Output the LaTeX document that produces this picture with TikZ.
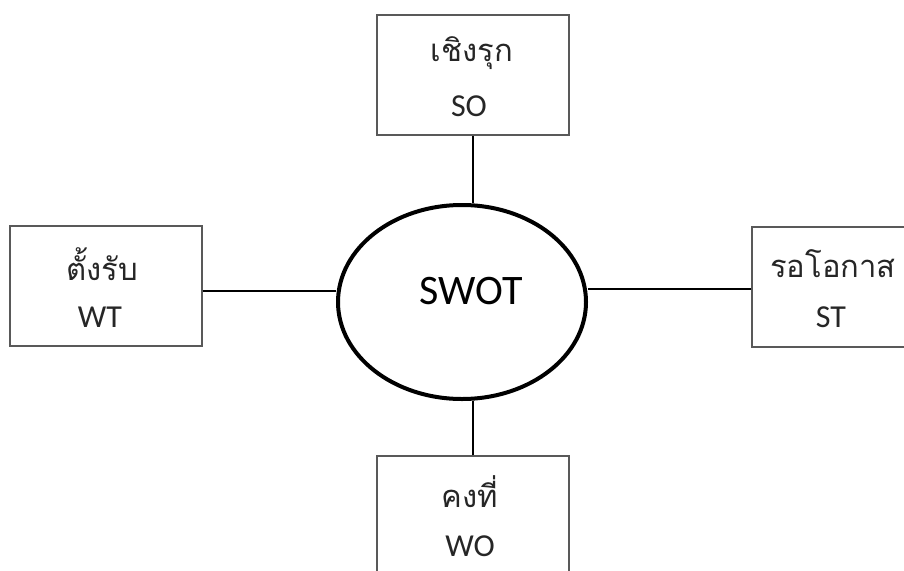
\documentclass[tikz,border=0pt]{standalone}
\usepackage{fontspec}
\setmainfont{Carlito}
\newfontfamily\thaifont[Script=Thai]{Loma}
\usetikzlibrary{shapes.geometric}

\tikzset{
  stratbox/.style={draw=black!65, line width=1.1pt, rectangle, inner sep=0pt,
    minimum width=192pt, minimum height=120pt},
  thaitext/.style={font=\thaifont\fontsize{31}{36}\selectfont, text=black!85, inner sep=0pt},
  codetext/.style={font=\fontsize{32}{38}\selectfont, text=black!85, inner sep=0pt},
  core/.style={draw=black, line width=4pt, ellipse, inner sep=0pt,
    minimum width=248pt, minimum height=194pt},
  link/.style={draw=black, line width=1.9pt}
}

\begin{document}
\begin{tikzpicture}[x=1pt, y=-1pt]
  \useasboundingbox (0,0) rectangle (904,570);
  \clip (0,0) rectangle (904,570);

  % central ellipse
  \node[core] (swot) at (462,302) {};
  \node[font=\fontsize{42}{48}\selectfont, inner sep=0pt] (swotlabel) at (471,291) {SWOT};

  % four strategy boxes
  \node[stratbox] (so) at (473,75) {};
  \node[thaitext] (sothai) at (472,53) {เชิงรุก};
  \node[codetext] (socode) at (469,106) {SO};

  \node[stratbox] (wt) at (106,286) {};
  \node[thaitext] (wtthai) at (102,264) {ตั้งรับ};
  \node[codetext] (wtcode) at (100,317) {WT};

  \node[stratbox, minimum width=166pt] (st) at (835,287) {};
  \node[thaitext] (stthai) at (833,264) {รอโอกาส};
  \node[codetext] (stcode) at (831,317) {ST};

  \node[stratbox] (wo) at (473,516) {};
  \node[thaitext] (wothai) at (470,492) {คงที่};
  \node[codetext] (wocode) at (470,546) {WO};

  % connectors from each box to the ellipse
  \draw[link] (so.south) -- (so.south |- swot.north);
  \draw[link] (wo.north) -- (wo.north |- swot.south);
  \draw[link] ([yshift=-5pt]wt.east) -- ([yshift=-5pt]wt.east -| swot.west);
  \draw[link] ([yshift=-2pt]st.west) -- ([yshift=-2pt]st.west -| swot.east);
\end{tikzpicture}
\end{document}
